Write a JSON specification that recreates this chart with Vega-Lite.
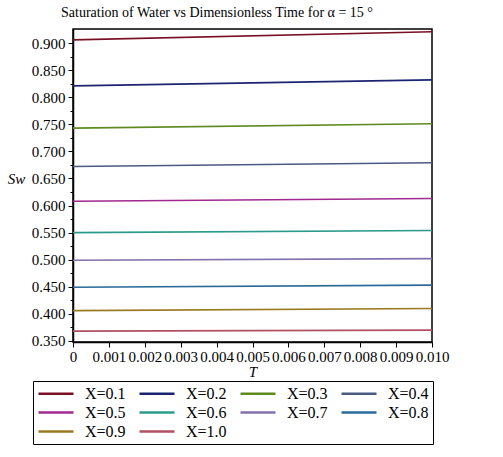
{
  "$schema": "https://vega.github.io/schema/vega-lite/v6.json",
  "autosize": {"type": "none"},
  "width": 359,
  "height": 313,
  "padding": {"left": 73, "top": 29, "right": 71, "bottom": 115},
  "background": "white",
  "config": {
    "font": "Liberation Serif",
    "view": {"stroke": "black", "strokeWidth": 1.5},
    "axis": {"labelFont": "Liberation Serif", "titleFont": "Liberation Serif", "labelColor": "black", "titleColor": "black", "domainColor": "black", "tickColor": "black", "grid": false},
    "legend": {"labelFont": "Liberation Serif"}
  },
  "title": {
    "text": "Saturation of Water vs Dimensionless Time for α = 15 °",
    "font": "Liberation Serif",
    "fontSize": 14,
    "fontWeight": "normal",
    "color": "black",
    "anchor": "start",
    "frame": "group",
    "dx": -12,
    "offset": 9
  },
  "data": {
    "values": [
      {"X": "X=0.1", "T": 0, "Sw": 0.906}, {"X": "X=0.1", "T": 0.01, "Sw": 0.921},
      {"X": "X=0.2", "T": 0, "Sw": 0.821}, {"X": "X=0.2", "T": 0.01, "Sw": 0.832},
      {"X": "X=0.3", "T": 0, "Sw": 0.743}, {"X": "X=0.3", "T": 0.01, "Sw": 0.751},
      {"X": "X=0.4", "T": 0, "Sw": 0.672}, {"X": "X=0.4", "T": 0.01, "Sw": 0.679},
      {"X": "X=0.5", "T": 0, "Sw": 0.608}, {"X": "X=0.5", "T": 0.01, "Sw": 0.613},
      {"X": "X=0.6", "T": 0, "Sw": 0.550}, {"X": "X=0.6", "T": 0.01, "Sw": 0.554},
      {"X": "X=0.7", "T": 0, "Sw": 0.499}, {"X": "X=0.7", "T": 0.01, "Sw": 0.502},
      {"X": "X=0.8", "T": 0, "Sw": 0.449}, {"X": "X=0.8", "T": 0.01, "Sw": 0.453},
      {"X": "X=0.9", "T": 0, "Sw": 0.406}, {"X": "X=0.9", "T": 0.01, "Sw": 0.410},
      {"X": "X=1.0", "T": 0, "Sw": 0.368}, {"X": "X=1.0", "T": 0.01, "Sw": 0.370}
    ]
  },
  "mark": {"type": "line", "strokeWidth": 1.6},
  "encoding": {
    "x": {
      "field": "T", "type": "quantitative",
      "scale": {"domain": [0, 0.01], "nice": false, "zero": false},
      "axis": {
        "values": [0, 0.001, 0.002, 0.003, 0.004, 0.005, 0.006, 0.007, 0.008, 0.009, 0.01],
        "labelExpr": "datum.value == 0 ? '0' : format(datum.value, '.3f')",
        "labelFont": "Liberation Serif",
        "labelFontSize": 15,
        "labelOverlap": false,
        "labelFlush": false,
        "labelPadding": 2,
        "tickSize": 5,
        "domainWidth": 1.5,
        "title": "T",
        "titleFont": "Liberation Serif",
        "titleFontStyle": "italic",
        "titleFontWeight": "normal",
        "titleFontSize": 15,
        "titlePadding": 0
      }
    },
    "y": {
      "field": "Sw", "type": "quantitative",
      "scale": {"domain": [0.348, 0.926], "nice": false, "zero": false},
      "axis": {
        "values": [0.35, 0.375, 0.4, 0.425, 0.45, 0.475, 0.5, 0.525, 0.55, 0.575, 0.6, 0.625, 0.65, 0.675, 0.7, 0.725, 0.75, 0.775, 0.8, 0.825, 0.85, 0.875, 0.9],
        "labelExpr": "round(datum.value * 1000) % 50 == 0 ? format(datum.value, '.3f') : ''",
        "labelFont": "Liberation Serif",
        "labelFontSize": 15,
        "labelOverlap": false,
        "labelPadding": 3,
        "tickSize": {"condition": {"test": "round(datum.value * 1000) % 50 != 0", "value": 3}, "value": 5},
        "domainWidth": 1.5,
        "title": "Sw",
        "titleFont": "Liberation Serif",
        "titleAngle": 0,
        "titleFontStyle": "italic",
        "titleFontWeight": "normal",
        "titleFontSize": 15,
        "titleX": -57,
        "titleY": 157
      }
    },
    "color": {
      "field": "X", "type": "nominal",
      "scale": {
        "domain": ["X=0.1", "X=0.2", "X=0.3", "X=0.4", "X=0.5", "X=0.6", "X=0.7", "X=0.8", "X=0.9", "X=1.0"],
        "range": ["#7a1024", "#1a2470", "#5e8a20", "#4a5a80", "#a02890", "#2a9a8a", "#8070b0", "#2a6a98", "#9a7a20", "#b05060"]
      },
      "legend": {
        "orient": "none",
        "legendX": -40,
        "legendY": 352,
        "title": null,
        "columns": 4,
        "direction": "horizontal",
        "symbolType": "M-1,0H4",
        "symbolSize": 196,
        "symbolStrokeWidth": 2.5,
        "labelFont": "Liberation Serif",
        "labelFontSize": 16,
        "labelColor": "black",
        "labelOffset": 31,
        "columnPadding": 8,
        "rowPadding": 2,
        "strokeColor": "black",
        "padding": 4
      }
    }
  }
}
